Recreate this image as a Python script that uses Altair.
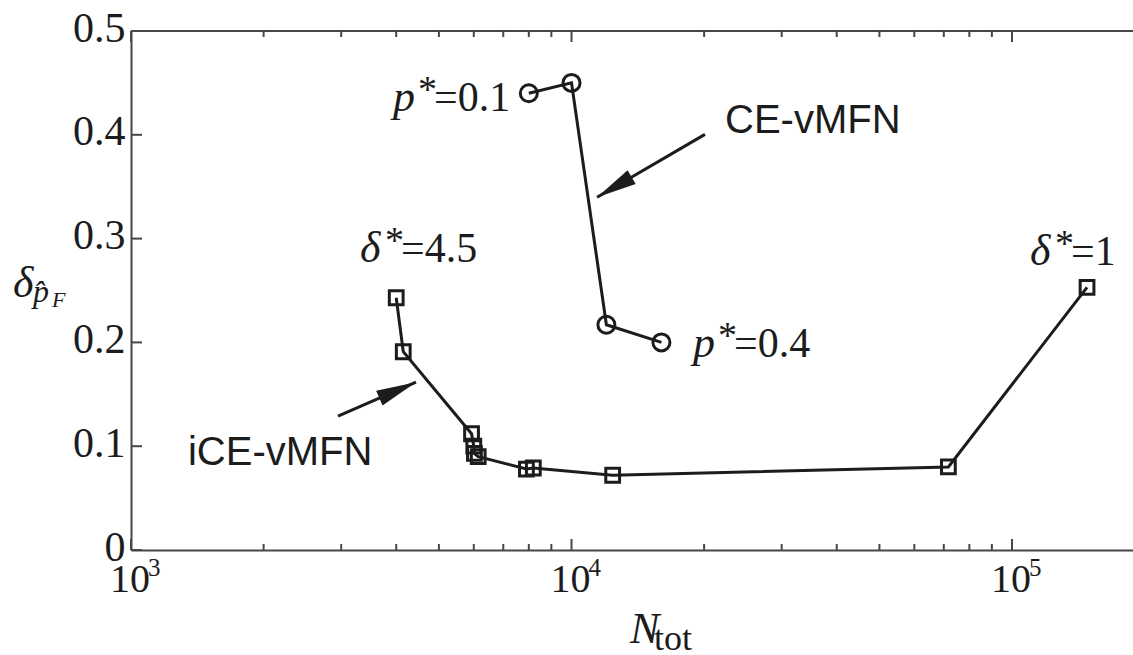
import math
import altair as alt
import pandas as pd

# ---------------- data ----------------
ce_n = [8000, 10000, 12000, 16000]
ce_d = [0.440, 0.450, 0.217, 0.200]

ice_n = [4000, 4150, 5930, 6000, 6020, 6140, 7900, 8190, 12400, 71700, 148000]
ice_d = [0.243, 0.191, 0.112, 0.100, 0.093, 0.090, 0.078, 0.079, 0.072, 0.080, 0.253]

y_tick_values = [0, 0.1, 0.2, 0.3, 0.4, 0.5]
x_major = [1e3, 1e4, 1e5]
x_major_exp = ["3", "4", "5"]
x_minor = [m * 10 ** e for e in (3, 4) for m in range(2, 10)]

X_MIN, X_MAX = 1000, 188200
Y_MIN, Y_MAX = 0.0, 0.5

# annotation anchors (data coordinates)
ann_p01 = (3934, 0.4225)
ann_p04 = (18870, 0.1858)
ann_d45 = (3311, 0.2772)
ann_d1 = (109900, 0.2743)
ann_ce = (22310, 0.4013)
ann_ice = (1347, 0.0818)
arrow_ce = ((20090, 0.4004), (11430, 0.3398))
arrow_ice = ((2951, 0.129), (4436, 0.1617))

# ---------------- layout ----------------
W, H = 1002, 519
SERIF = "Liberation Serif, Times New Roman, Times, serif"
SANS = "Liberation Sans, Arial, Helvetica, sans-serif"
INK = "#1c1c1c"
AXC = "#474747"

xs = alt.Scale(type="log", domain=[X_MIN, X_MAX], nice=False)
ys = alt.Scale(domain=[Y_MIN, Y_MAX], nice=False, zero=False)

x_axis = alt.Axis(title=None, labels=False, ticks=False, grid=False,
                  domainColor=AXC, domainWidth=2)
y_axis = alt.Axis(title=None, values=y_tick_values, ticks=False, tickSize=0, grid=False,
                  domainColor=AXC, domainWidth=2,
                  labelExpr="datum.value == 0 ? '0' : format(datum.value, '.1f')",
                  labelFont=SERIF, labelFontSize=42, labelColor=INK,
                  labelPadding=6, labelOffset=-3, labelBaseline="middle")


def X():
    return alt.X("n:Q", scale=xs, axis=x_axis)


def Y():
    return alt.Y("d:Q", scale=ys, axis=y_axis)


def one(n, d, **kw):
    row = {"n": [n], "d": [d]}
    for k, v in kw.items():
        row[k] = [v]
    return pd.DataFrame(row)


ce_df = pd.DataFrame({"n": ce_n, "d": ce_d, "i": range(len(ce_n))})
ice_df = pd.DataFrame({"n": ice_n, "d": ice_d, "i": range(len(ice_n))})

layers = []

# series lines and markers
for df, shape, size in ((ce_df, "circle", 290), (ice_df, "square", 190)):
    layers.append(alt.Chart(df).mark_line(color=INK, strokeWidth=3).encode(
        x=X(), y=Y(), order="i:Q"))
    layers.append(alt.Chart(df).mark_point(shape=shape, size=size, filled=False,
                                           color=INK, strokeWidth=3, opacity=1).encode(
        x=X(), y=Y()))

# top frame line
layers.append(alt.Chart(one(X_MIN, Y_MAX)).mark_rule(color=AXC, strokeWidth=2).encode(
    x=alt.value(0), x2=alt.value(W), y=alt.value(0)))

# inside ticks
maj_df = pd.DataFrame({"n": x_major, "e": x_major_exp})
min_df = pd.DataFrame({"n": x_minor})
yt_df = pd.DataFrame({"d": y_tick_values})
for df, ln in ((maj_df, 11), (min_df, 6)):
    layers.append(alt.Chart(df).mark_rule(color=AXC, strokeWidth=2).encode(
        x=X(), y=alt.value(H), y2=alt.value(H - ln)))
    layers.append(alt.Chart(df).mark_rule(color=AXC, strokeWidth=2).encode(
        x=X(), y=alt.value(0), y2=alt.value(ln)))
layers.append(alt.Chart(yt_df).mark_rule(color=AXC, strokeWidth=2).encode(
    y=Y(), x=alt.value(0), x2=alt.value(11)))

# x tick labels 10^k
layers.append(alt.Chart(maj_df).mark_text(font=SERIF, fontSize=40, color=INK, align="center",
                                          baseline="alphabetic", dx=-1, dy=42).encode(
    x=X(), y=alt.value(H), text=alt.value("10")))
layers.append(alt.Chart(maj_df).mark_text(font=SERIF, fontSize=25, color=INK, align="left",
                                          baseline="alphabetic", dx=17, dy=26).encode(
    x=X(), y=alt.value(H), text="e:N"))


def txt(anchor, text, size, dx=0, dy=0, font=SERIF, style="normal", align="left"):
    n, d = anchor
    return alt.Chart(one(n, d, t=text)).mark_text(
        font=font, fontSize=size, fontStyle=style, color=INK, align=align,
        baseline="alphabetic", dx=dx, dy=dy).encode(x=X(), y=Y(), text="t:N")


def rich(anchor, sym, value):
    return [
        txt(anchor, sym, 44, style="italic"),
        txt(anchor, "*", 38, dx=25, dy=-9),
        txt(anchor, "=" + value, 42, dx=41),
    ]


layers += rich(ann_p01, "p", "0.1")
layers += rich(ann_p04, "p", "0.4")
layers += rich(ann_d45, "δ", "4.5")
layers += rich(ann_d1, "δ", "1")
layers.append(txt(ann_ce, "CE-vMFN", 40, font=SANS))
layers.append(txt(ann_ice, "iCE-vMFN", 40, font=SANS))


# arrows
def to_px(n, d):
    sx = W * (math.log10(n) - math.log10(X_MIN)) / (math.log10(X_MAX) - math.log10(X_MIN))
    sy = H * (1 - (d - Y_MIN) / (Y_MAX - Y_MIN))
    return sx, sy


HEAD = "M0,0L-0.4,2L0.4,2Z"
for (s, t) in (arrow_ce, arrow_ice):
    layers.append(alt.Chart(pd.DataFrame({"n": [s[0]], "d": [s[1]], "n2": [t[0]], "d2": [t[1]]}))
                  .mark_rule(color=INK, strokeWidth=3).encode(
        x=X(), y=Y(), x2="n2:Q", y2="d2:Q"))
    sx, sy = to_px(*s)
    tx, ty = to_px(*t)
    ang = math.degrees(math.atan2(tx - sx, -(ty - sy))) % 360
    layers.append(alt.Chart(one(t[0], t[1])).mark_point(
        shape=HEAD, size=1600, filled=True, color=INK, opacity=1, angle=ang, strokeWidth=0).encode(
        x=X(), y=Y()))

# axis titles (pixel placed, relative to plot area)
title_parts = [
    ("δ", -118, 266, 44, "italic"),
    ("p\u0302", -98, 271, 32, "italic"),
    ("F", -79, 276, 22, "italic"),
    ("N", 499, 612, 44, "italic"),
    ("tot", 523, 619, 36, "normal"),
]
for t, px, py, size, style in title_parts:
    layers.append(alt.Chart(one(X_MIN, Y_MIN, t=t)).mark_text(
        font=SERIF, fontSize=size, fontStyle=style, color=INK, align="left",
        baseline="alphabetic").encode(x=alt.value(px), y=alt.value(py), text="t:N"))

chart = alt.layer(*layers).properties(
    width=W, height=H,
    autosize=alt.AutoSizeParams(type="none"),
    padding={"left": 131, "top": 31, "right": 0, "bottom": 105},
).configure_view(stroke=None).configure(background="white")

chart.save("out.html", embed_options={"renderer": "svg", "actions": False})
